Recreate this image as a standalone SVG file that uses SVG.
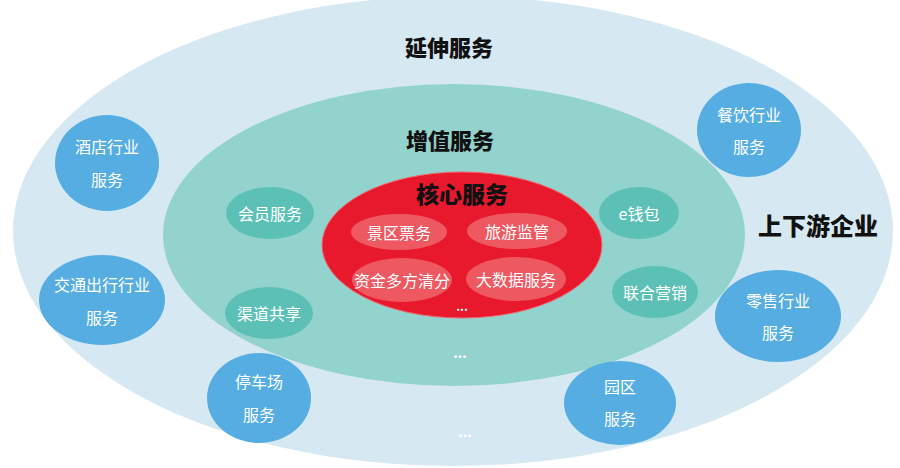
<svg xmlns="http://www.w3.org/2000/svg" width="900" height="468" viewBox="0 0 900 468">
<style>
text{font-family:"Noto Sans CJK SC","Noto Sans",sans-serif;text-anchor:middle;dominant-baseline:central}
.title{font-size:22px;font-weight:900;fill:#111}
.w{fill:#fff;font-size:16px}
.blue{fill:#56ade2}
.teal{fill:#5cc0b6}
.pink{fill:#ee5961}
.dots{fill:#fff;font-size:14px;font-weight:700}
</style>
<rect width="900" height="468" fill="#fff"/>
<g id="outer">
<ellipse cx="453" cy="231" rx="440" ry="235" fill="#d6e8f2"/>
<text class="title" x="449" y="46">延伸服务</text>
<text class="title" x="818" y="224" style="font-size:24px">上下游企业</text>
<text class="dots" x="465" y="431">...</text>
</g>
<g id="middle">
<ellipse cx="454" cy="235" rx="291" ry="151" fill="#93d3cd"/>
<text class="title" x="450" y="139">增值服务</text>
<text class="dots" x="460" y="352">...</text>
</g>
<g id="core">
<ellipse cx="462" cy="245" rx="140" ry="73" fill="#e8192d" stroke="#f0646c" stroke-width="1"/>
<text class="title" x="462" y="193" style="font-size:23px">核心服务</text>
<text class="dots" x="462" y="305" style="font-size:12px">...</text>
</g>
<g id="n-jingqu"><ellipse class="pink" cx="399" cy="232" rx="48" ry="18"/><text class="w" x="399" y="232">景区票务</text></g>
<g id="n-lvyou"><ellipse class="pink" cx="517" cy="231" rx="50" ry="18"/><text class="w" x="517" y="231">旅游监管</text></g>
<g id="n-zijin"><ellipse class="pink" cx="402" cy="280" rx="50" ry="22"/><text class="w" x="402" y="280">资金多方清分</text></g>
<g id="n-dashuju"><ellipse class="pink" cx="516" cy="279" rx="50" ry="22"/><text class="w" x="516" y="279">大数据服务</text></g>
<g id="n-huiyuan"><ellipse class="teal" cx="270" cy="213" rx="44" ry="26"/><text class="w" x="270" y="213">会员服务</text></g>
<g id="n-qudao"><ellipse class="teal" cx="269" cy="313" rx="44" ry="26"/><text class="w" x="269" y="313">渠道共享</text></g>
<g id="n-eqianbao"><ellipse class="teal" cx="639" cy="213" rx="40" ry="26"/><text class="w" x="639" y="213">e钱包</text></g>
<g id="n-lianhe"><ellipse class="teal" cx="655" cy="292" rx="43" ry="26"/><text class="w" x="655" y="292">联合营销</text></g>
<g id="n-jiudian"><ellipse class="blue" cx="107" cy="163" rx="52" ry="48"/><text class="w" x="107" y="146">酒店行业</text><text class="w" x="107" y="179">服务</text></g>
<g id="n-jiaotong"><ellipse class="blue" cx="102" cy="300" rx="63" ry="45"/><text class="w" x="102" y="284">交通出行行业</text><text class="w" x="102" y="317">服务</text></g>
<g id="n-tingche"><ellipse class="blue" cx="259" cy="398" rx="52" ry="45"/><text class="w" x="259" y="381">停车场</text><text class="w" x="259" y="414">服务</text></g>
<g id="n-yuanqu"><ellipse class="blue" cx="620" cy="403" rx="56" ry="42"/><text class="w" x="620" y="386">园区</text><text class="w" x="620" y="418">服务</text></g>
<g id="n-lingshou"><ellipse class="blue" cx="778" cy="316" rx="63" ry="46"/><text class="w" x="778" y="300">零售行业</text><text class="w" x="778" y="332">服务</text></g>
<g id="n-canyin"><ellipse class="blue" cx="749" cy="130" rx="52" ry="47"/><text class="w" x="749" y="114">餐饮行业</text><text class="w" x="749" y="146">服务</text></g>
<g id="connectors"></g>
</svg>
